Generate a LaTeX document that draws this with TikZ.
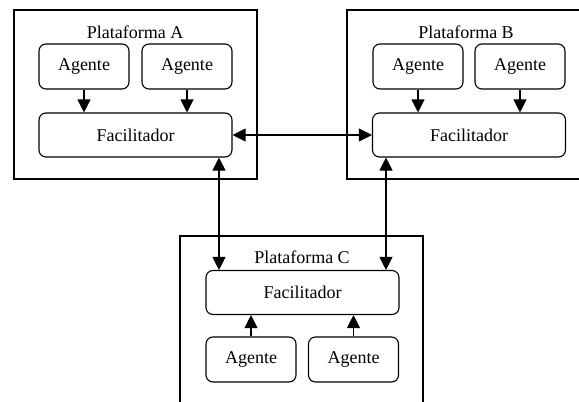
\documentclass[tikz,border=0pt]{standalone}
\usepackage{fontspec}
\setmainfont{Liberation Serif}
\usetikzlibrary{arrows.meta}
\begin{document}
\begin{tikzpicture}[x=1pt,y=-1pt,
  frame/.style={line width=1.1pt,draw=black},
  rbox/.style={draw=black,line width=1.1pt,rounded corners=7pt,minimum height=45pt,inner sep=0pt,font=\fontsize{18}{20}\selectfont},
  agbox/.style={rbox,minimum width=90pt},
  facbox/.style={rbox,minimum width=193pt,minimum height=44pt},
  ttl/.style={font=\fontsize{18}{20}\selectfont,inner sep=0pt},
  conn/.style={line width=1.1pt,-{Triangle[width=13pt,length=13pt]}},
  bconn/.style={line width=1.1pt,{Triangle[width=13pt,length=13pt]}-{Triangle[width=13pt,length=13pt]}}]
\useasboundingbox (0,0) rectangle (579,402);
% Plataforma A
\draw[frame] (14,10) rectangle (257,179);
\node[ttl] (ta) at (135,32) {Plataforma A};
\node[agbox] (a1) at (84,66.5) {Agente};
\node[agbox] (a2) at (187,66.5) {Agente};
\node[facbox] (af) at (135.5,135) {Facilitador};
% Plataforma B
\draw[frame] (580,10) -- (347,10) -- (347,179) -- (580,179);
\node[ttl] (tb) at (466,32) {Plataforma B};
\node[agbox] (b1) at (418,66.5) {Agente};
\node[agbox] (b2) at (520,66.5) {Agente};
\node[facbox] (bf) at (469,135) {Facilitador};
% Plataforma C
\draw[frame] (180,403) -- (180,236) -- (423,236) -- (423,403);
\node[ttl] (tc) at (302,257) {Plataforma C};
\node[facbox] (cf) at (302.5,292.5) {Facilitador};
\node[agbox] (c1) at (251,359.5) {Agente};
\node[agbox] (c2) at (353.5,359.5) {Agente};
% connectors
\coordinate (xl) at (219,0);
\coordinate (xr) at (386,0);
\draw[conn] (a1.south) -- (a1.south |- af.north);
\draw[conn] (a2.south) -- (a2.south |- af.north);
\draw[conn] (b1.south) -- (b1.south |- bf.north);
\draw[conn] (b2.south) -- (b2.south |- bf.north);
\draw[conn] (c1.north) -- (c1.north |- cf.south);
\draw[conn] (c2.north) -- (c2.north |- cf.south);
\draw[bconn] (af.east) -- (bf.west);
\draw[bconn] (af.south -| xl) -- (cf.north -| xl);
\draw[bconn] (bf.south -| xr) -- (cf.north -| xr);
\end{tikzpicture}
\end{document}
